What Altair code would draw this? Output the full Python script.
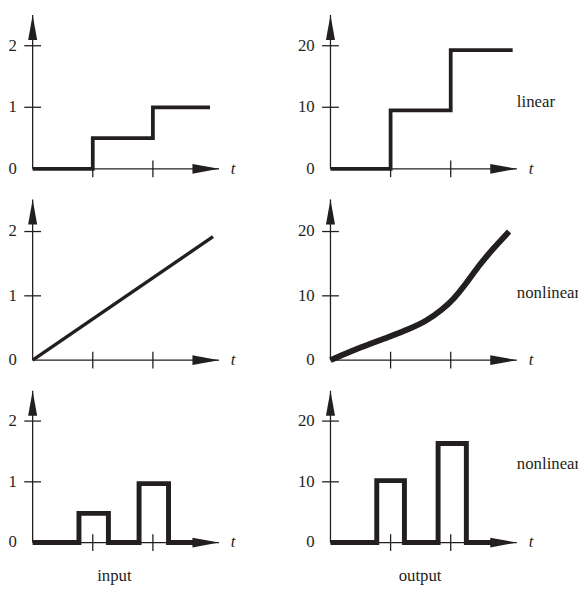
import altair as alt
import pandas as pd

FONT = "Liberation Serif"
INK = "#231f20"

# ---- data ----
t_ticks = [1, 2]
in_y_ticks = [0, 1, 2]
out_y_ticks = [0, 10, 20]

step_in_t = [0, 1, 2, 2.95]
step_in_y = [0, 0.5, 1, 1]
step_out_t = [0, 1, 2, 3.03]
step_out_y = [0, 9.5, 19.3, 19.3]

ramp_in_t = [0, 3.0]
ramp_in_y = [0, 1.92]
curve_out_t = [0, 0.5, 1.0, 1.3, 1.6, 1.85, 2.05, 2.25, 2.45, 2.7, 2.97]
curve_out_y = [0, 2.0, 3.7, 4.8, 6.1, 7.8, 9.5, 11.8, 14.5, 17.3, 20]

pulse_in_t = [0, 0.77, 1.26, 1.77, 2.26, 2.75]
pulse_in_y = [0, 0.48, 0, 0.97, 0, 0]
pulse_out_t = [0, 0.77, 1.23, 1.79, 2.26, 2.75]
pulse_out_y = [0, 10.2, 0, 16.3, 0, 0]

row_labels = ["linear", "nonlinear", "nonlinear"]
row_label_y = [10.9, 10.5, 12.9]
col_labels = ["input", "output"]
col_label_t = [1.36, 1.49]

# ---- layout ----
X_TIP = 3.1
LEFT_W = 189
RIGHT_W = 251
RIGHT_XMAX = RIGHT_W / (LEFT_W / X_TIP)
ROW_H = [156, 163, 154]
Y_MAX_IN = 2.5
Y_MAX_OUT = 25

UP_ARROW = "M0,0 L0.36,2 L-0.36,2 Z"
RIGHT_ARROW = "M0,0 L-2,-0.37 L-2,0.37 Z"


def panel(width, height, xmax, ymax, yticks, st, sy, sw, interp,
          side_label=None, side_y=None, bottom_label=None, bottom_t=None):
    xs = alt.Scale(domain=[0, xmax], nice=False, zero=False)
    ys = alt.Scale(domain=[0, ymax], nice=False, zero=False)

    def X(f):
        return alt.X(f, type="quantitative", scale=xs, axis=None)

    def Y(f):
        return alt.Y(f, type="quantitative", scale=ys, axis=None)

    layers = []
    # axes lines
    layers.append(alt.Chart(pd.DataFrame({"t": [0], "t2": [X_TIP], "y": [0]}))
                  .mark_rule(color=INK, strokeWidth=1.3)
                  .encode(x=X("t"), x2="t2", y=Y("y")))
    layers.append(alt.Chart(pd.DataFrame({"t": [0], "y": [0], "y2": [ymax]}))
                  .mark_rule(color=INK, strokeWidth=1.3)
                  .encode(x=X("t"), y=Y("y"), y2="y2"))
    # ticks
    layers.append(alt.Chart(pd.DataFrame({"t": t_ticks, "y": [0] * len(t_ticks)}))
                  .mark_tick(orient="vertical", size=17, thickness=1.3, color=INK, opacity=1)
                  .encode(x=X("t"), y=Y("y")))
    layers.append(alt.Chart(pd.DataFrame({"t": [0] * (len(yticks) - 1), "y": yticks[1:]}))
                  .mark_tick(orient="horizontal", size=17, thickness=1.3, color=INK, opacity=1)
                  .encode(x=X("t"), y=Y("y")))
    # tick labels
    layers.append(alt.Chart(pd.DataFrame({"t": [0] * len(yticks), "y": yticks,
                                          "lab": [str(v) for v in yticks]}))
                  .mark_text(align="right", baseline="middle", dx=-16, font=FONT,
                             fontSize=17, color=INK)
                  .encode(x=X("t"), y=Y("y"), text="lab:N"))
    layers.append(alt.Chart(pd.DataFrame({"t": [X_TIP], "y": [0], "lab": ["t"]}))
                  .mark_text(align="left", baseline="middle", dx=12, font=FONT,
                             fontSize=17, fontStyle="italic", color=INK)
                  .encode(x=X("t"), y=Y("y"), text="lab:N"))
    # series
    layers.append(alt.Chart(pd.DataFrame({"t": st, "y": sy}))
                  .mark_line(interpolate=interp, strokeWidth=sw, color=INK,
                             strokeJoin="miter", strokeCap="butt")
                  .encode(x=X("t"), y=Y("y")))
    # arrowheads
    layers.append(alt.Chart(pd.DataFrame({"t": [X_TIP], "y": [0]}))
                  .mark_point(shape=RIGHT_ARROW, size=729, filled=True, color=INK,
                              opacity=1, strokeWidth=0)
                  .encode(x=X("t"), y=Y("y")))
    layers.append(alt.Chart(pd.DataFrame({"t": [0], "y": [ymax]}))
                  .mark_point(shape=UP_ARROW, size=650, filled=True, color=INK,
                              opacity=1, strokeWidth=0)
                  .encode(x=X("t"), y=Y("y")))
    if side_label is not None:
        layers.append(alt.Chart(pd.DataFrame({"t": [X_TIP], "y": [side_y], "lab": [side_label]}))
                      .mark_text(align="left", baseline="middle", font=FONT, fontSize=17,
                                 color=INK, clip=True)
                      .encode(x=X("t"), y=Y("y"), text="lab:N"))
    if bottom_label is not None:
        layers.append(alt.Chart(pd.DataFrame({"t": [bottom_t], "y": [0], "lab": [bottom_label]}))
                      .mark_text(align="center", baseline="middle", dy=34, font=FONT,
                                 fontSize=17, color=INK)
                      .encode(x=X("t"), y=Y("y"), text="lab:N"))
    return alt.layer(*layers).properties(width=width, height=height)


panels = []
series = [
    ((step_in_t, step_in_y, 3.8, "step-after"), (step_out_t, step_out_y, 3.8, "step-after")),
    ((ramp_in_t, ramp_in_y, 3.4, "linear"), (curve_out_t, curve_out_y, 6, "basis")),
    ((pulse_in_t, pulse_in_y, 5, "step-after"), (pulse_out_t, pulse_out_y, 5, "step-after")),
]
for i, (ls, rs) in enumerate(series):
    last = i == 2
    panels.append(panel(LEFT_W, ROW_H[i], X_TIP, Y_MAX_IN, in_y_ticks, *ls,
                        bottom_label=col_labels[0] if last else None,
                        bottom_t=col_label_t[0] if last else None))
    panels.append(panel(RIGHT_W, ROW_H[i], RIGHT_XMAX, Y_MAX_OUT, out_y_ticks, *rs,
                        side_label=row_labels[i], side_y=row_label_y[i],
                        bottom_label=col_labels[1] if last else None,
                        bottom_t=col_label_t[1] if last else None))

chart = (alt.concat(*panels, columns=2, spacing={"row": 31, "column": 113}, bounds="flush")
         .properties(padding={"left": 0, "top": 2, "right": 0, "bottom": 0},
                     background="white")
         .configure_view(stroke=None))

chart.save("out.html", embed_options={"renderer": "svg", "actions": False})
